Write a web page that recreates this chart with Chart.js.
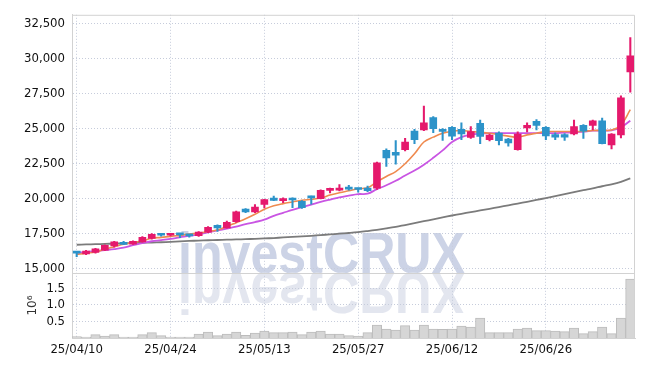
<!DOCTYPE html>
<html>
<head>
<meta charset="utf-8">
<script src="https://cdn.jsdelivr.net/npm/chart.js@4.4.1/dist/chart.umd.min.js"></script>
<style>
  html, body { margin: 0; padding: 0; background: #fff; }
  canvas { display: block; }
</style>
</head>
<body>
<canvas id="stockChart" width="645" height="366"></canvas>
<script>
// trading days (YY/MM/DD)
const dates = [
  '25/04/10','25/04/11','25/04/14','25/04/15','25/04/16','25/04/17','25/04/18','25/04/21','25/04/22','25/04/23',
  '25/04/24','25/04/25','25/04/28','25/04/29','25/04/30','25/05/02','25/05/07','25/05/08','25/05/09','25/05/12',
  '25/05/13','25/05/14','25/05/15','25/05/16','25/05/19','25/05/20','25/05/21','25/05/22','25/05/23','25/05/26',
  '25/05/27','25/05/28','25/05/29','25/05/30','25/06/02','25/06/04','25/06/05','25/06/09','25/06/10','25/06/11',
  '25/06/12','25/06/13','25/06/16','25/06/17','25/06/18','25/06/19','25/06/20','25/06/23','25/06/24','25/06/25',
  '25/06/26','25/06/27','25/06/30','25/07/01','25/07/02','25/07/03','25/07/04','25/07/07','25/07/08','25/07/09'
];
const xTickLabels = ['25/04/10', '25/04/24', '25/05/13', '25/05/27', '25/06/12', '25/06/26'];

const opens = [
  16150,16050,16150,16320,16620,16880,16750,16900,17150,17450,
  17380,17430,17380,17350,17600,18080,17900,18350,19240,19050,
  19580,20040,19850,20000,19800,20100,20000,20580,20600,20800,
  20700,20750,20750,23450,23300,23500,24830,24900,25780,24950,
  25090,24950,24370,25370,24200,24670,24250,23500,25040,25510,
  25090,24580,24580,24620,25230,25230,25560,23830,24550,29050
];
const highs = [
  16200,16300,16450,16700,16950,16950,16980,17280,17500,17500,
  17500,17480,17420,17650,17990,18130,18400,19100,19280,19570,
  19950,20180,20050,20050,19850,20170,20620,20750,21000,20950,
  20750,20900,22600,23550,24150,24300,24950,26600,25850,25000,
  25150,25420,25140,25600,24600,24760,24300,24760,25420,25650,
  25150,24700,24650,25600,25280,25600,25750,24650,27340,31500
];
const lows = [
  15850,16000,16100,16280,16530,16700,16720,16880,17100,17320,
  17330,17200,17250,17300,17560,17650,17880,18300,19000,19000,
  19340,19850,19700,19350,19300,19600,19980,20400,20550,20600,
  20450,20500,20650,22300,22450,23400,23920,24850,24700,24150,
  24200,24200,24300,23920,24110,23830,23740,23450,24760,24900,
  24200,24200,24150,24550,24300,24900,23900,23550,24340,27600
];
const closes = [
  16100,16250,16400,16650,16900,16720,16950,17230,17450,17380,
  17450,17400,17330,17600,17950,17900,18300,19050,19050,19400,
  19920,19870,19900,19900,19350,20050,20580,20650,20750,20680,
  20650,20560,22550,22900,23100,24040,24200,25420,25000,24800,
  24450,24620,24790,24440,24530,24130,23970,24600,25230,25230,
  24480,24390,24390,25140,24810,25560,23920,24600,27200,30200
];

// moving average lines
const maShort = [
  16000,16100,16180,16390,16560,16740,16840,16980,17160,17230,
  17300,17370,17470,17530,17650,17760,18000,18280,18560,18880,
  19230,19480,19640,19760,19880,19950,20040,20250,20420,20560,
  20700,20770,21200,21580,21930,22490,23200,24040,24390,24670,
  24810,24860,24790,24740,24670,24560,24460,24390,24550,24670,
  24780,24790,24790,24790,24810,24860,24880,24900,25250,26350
];
const maMid = [
  16130,16180,16250,16320,16390,16490,16670,16810,16950,17030,
  17120,17230,17330,17450,17580,17720,17860,18000,18180,18320,
  18490,18770,18980,19190,19380,19570,19760,19930,20090,20210,
  20320,20350,20670,20950,21270,21650,22000,22420,22910,23440,
  24040,24390,24560,24630,24670,24680,24680,24680,24670,24670,
  24670,24680,24710,24720,24780,24850,24860,24880,25090,25560
];
const maLong = [
  16700,16720,16740,16760,16780,16800,16820,16840,16860,16880,
  16910,16940,16970,17000,17020,17040,17060,17080,17100,17120,
  17150,17180,17220,17260,17300,17340,17390,17440,17490,17540,
  17600,17680,17770,17870,17980,18110,18240,18380,18520,18660,
  18790,18910,19030,19150,19270,19390,19520,19640,19770,19900,
  20040,20180,20320,20460,20600,20730,20880,21020,21200,21440
];

// volume, millions of shares
const volumes = [
  0.04,0.03,0.10,0.06,0.10,0.03,0.03,0.10,0.16,0.07,
  0.03,0.03,0.03,0.12,0.18,0.07,0.12,0.18,0.08,0.15,
  0.21,0.16,0.16,0.18,0.10,0.18,0.21,0.12,0.12,0.07,
  0.06,0.16,0.39,0.27,0.24,0.37,0.24,0.39,0.27,0.26,
  0.27,0.36,0.33,0.60,0.16,0.16,0.16,0.27,0.30,0.22,
  0.22,0.21,0.19,0.30,0.13,0.19,0.33,0.13,0.60,1.77
];

const priceTicks = [15000, 17500, 20000, 22500, 25000, 27500, 30000, 32500];
const volTicks = [0.5, 1.0, 1.5];

const UP = '#e5196c';
const DOWN = '#2c93c9';
const GRID = '#c6ccdb';
const FRAME = '#d2d2d2';
const TEXT = '#111';
const tickFont = { family: '"DejaVu Sans Condensed", "DejaVu Sans", sans-serif', size: 13 };

const candleColors = opens.map((o, i) => closes[i] >= o ? UP : DOWN);

// watermark + panel frame
const decorPlugin = {
  id: 'decor',
  beforeDraw(chart) {
    const ctx = chart.ctx;
    const base = chart.scales.yVol.top;
    ctx.save();
    ctx.font = 'bold 57px "Liberation Sans", Arial, sans-serif';
    const w = ctx.measureText('investCRUX').width;
    ctx.translate(178, base);
    ctx.scale(287 / w, 1);
    ctx.fillStyle = '#ccd3e6';
    ctx.fillText('investCRUX', 0, 0);
    ctx.scale(1, -1);
    ctx.fillStyle = '#e3e6ef';
    ctx.fillText('investCRUX', 0, 0);
    ctx.restore();
  },
  afterDraw(chart) {
    const { ctx, chartArea } = chart;
    const sep = chart.scales.yVol.top;
    ctx.save();
    ctx.strokeStyle = FRAME;
    ctx.lineWidth = 1;
    ctx.beginPath();
    ctx.moveTo(chartArea.left, chartArea.top + 0.5);
    ctx.lineTo(chartArea.right - 0.5, chartArea.top + 0.5);
    ctx.lineTo(chartArea.right - 0.5, chartArea.bottom);
    ctx.moveTo(chartArea.left, Math.round(sep) + 0.5);
    ctx.lineTo(chartArea.right, Math.round(sep) + 0.5);
    ctx.stroke();
    ctx.restore();
  }
};

new Chart(document.getElementById('stockChart'), {
  type: 'bar',
  data: {
    labels: dates,
    datasets: [
      {
        label: 'body',
        data: opens.map((o, i) => [o, closes[i]]),
        backgroundColor: candleColors,
        borderWidth: 0,
        barThickness: 7,
        minBarLength: 2,
        grouped: false,
        yAxisID: 'y',
        order: 0
      },
      {
        label: 'wick',
        data: lows.map((l, i) => [l, highs[i]]),
        backgroundColor: candleColors,
        borderWidth: 0,
        barThickness: 1.4,
        grouped: false,
        yAxisID: 'y',
        order: 1
      },
      {
        type: 'line',
        label: 'MA short',
        data: maShort,
        borderColor: '#ef8a4f',
        borderWidth: 1.6,
        pointRadius: 0,
        tension: 0.4,
        yAxisID: 'y',
        order: 2
      },
      {
        type: 'line',
        label: 'MA mid',
        data: maMid,
        borderColor: '#c955e3',
        borderWidth: 1.8,
        pointRadius: 0,
        tension: 0.4,
        yAxisID: 'y',
        order: 2
      },
      {
        type: 'line',
        label: 'MA long',
        data: maLong,
        borderColor: '#7b7b7b',
        borderWidth: 1.8,
        pointRadius: 0,
        tension: 0.4,
        yAxisID: 'y',
        order: 2
      },
      {
        label: 'volume',
        data: volumes,
        backgroundColor: '#d6d6d6',
        borderColor: '#bcbcbc',
        borderWidth: 1,
        barPercentage: 1,
        categoryPercentage: 1,
        grouped: false,
        yAxisID: 'yVol',
        order: 3
      }
    ]
  },
  options: {
    responsive: false,
    animation: false,
    devicePixelRatio: 1,
    layout: { padding: { top: 2, right: 10, left: 0, bottom: 0 } },
    plugins: {
      legend: { display: false },
      tooltip: { enabled: false }
    },
    scales: {
      x: {
        type: 'category',
        offset: true,
        grid: {
          offset: false,
          drawTicks: false,
          color: ctx => xTickLabels.includes(dates[ctx.index]) ? GRID : 'rgba(0,0,0,0)'
        },
        border: { color: FRAME, dash: [1, 2] },
        ticks: {
          autoSkip: false,
          maxRotation: 0,
          padding: 4,
          color: TEXT,
          font: tickFont,
          callback: (v, i) => xTickLabels.includes(dates[i]) ? dates[i] : ''
        },
        afterFit: s => { s.height = 28; }
      },
      y: {
        type: 'linear',
        position: 'left',
        stack: 'panels',
        stackWeight: 263,
        weight: 2,
        min: 14670,
        max: 33130,
        grid: { color: GRID, drawTicks: false },
        border: { color: FRAME, dash: [1, 2] },
        ticks: {
          autoSkip: false,
          padding: 7,
          color: TEXT,
          font: tickFont,
          callback: v => v.toLocaleString('en-US')
        },
        afterBuildTicks: s => { s.ticks = priceTicks.map(v => ({ value: v })); },
        afterFit: s => { s.width = 72; }
      },
      yVol: {
        type: 'linear',
        position: 'left',
        stack: 'panels',
        stackWeight: 66,
        weight: 1,
        min: 0,
        max: 1.95,
        grid: { color: GRID, drawTicks: false },
        border: { color: FRAME, dash: [1, 2] },
        title: {
          display: true,
          text: '10⁶',
          color: '#333',
          font: { family: '"DejaVu Sans", sans-serif', size: 12 },
          padding: { top: 26, bottom: 0 }
        },
        ticks: {
          autoSkip: false,
          padding: 7,
          color: TEXT,
          font: { family: tickFont.family, size: 13 },
          callback: v => v.toFixed(1)
        },
        afterBuildTicks: s => { s.ticks = volTicks.map(v => ({ value: v })); },
        afterFit: s => { s.width = 72; }
      }
    }
  },
  plugins: [decorPlugin]
});
</script>
</body>
</html>
